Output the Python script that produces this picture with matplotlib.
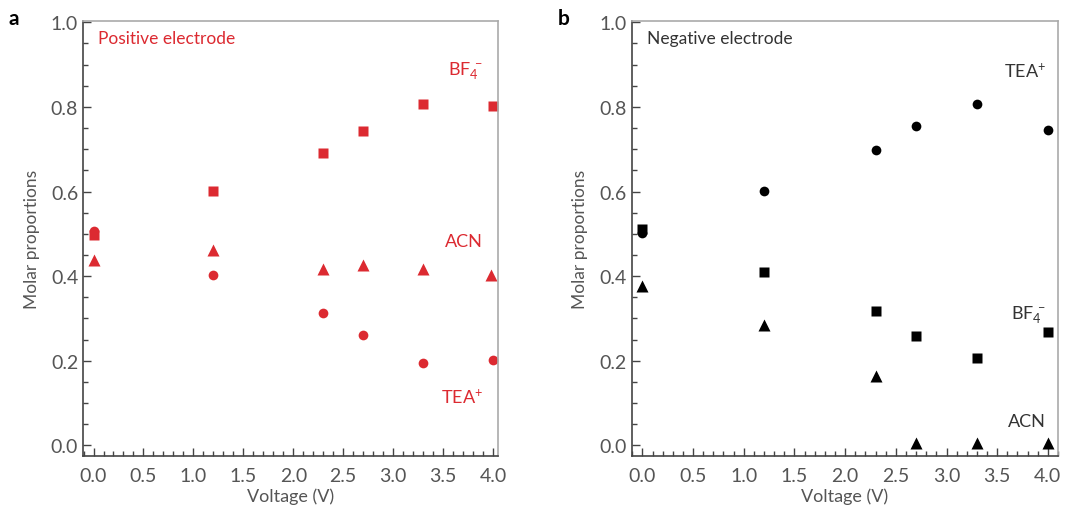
import matplotlib
matplotlib.use("Agg")
import matplotlib.pyplot as plt
from matplotlib.ticker import MultipleLocator

plt.rcParams['font.family'] = ['Lato', 'DejaVu Sans']
plt.rcParams['mathtext.default'] = 'regular'

RED = '#dc2a31'
GREY = '#555555'

# positive electrode (panel a)
pos_v = [0.0, 1.2, 2.3, 2.7, 3.3, 4.0]
pos_bf4 = [0.497, 0.602, 0.692, 0.744, 0.808, 0.802]
pos_tea = [0.506, 0.402, 0.312, 0.261, 0.196, 0.202]
pos_acn_v = [0.0, 1.2, 2.3, 2.7, 3.3, 3.98]
pos_acn = [0.438, 0.462, 0.418, 0.426, 0.418, 0.402]

# negative electrode (panel b)
neg_v = [0.0, 1.2, 2.3, 2.7, 3.3, 4.0]
neg_tea = [0.502, 0.602, 0.697, 0.754, 0.806, 0.746]
neg_bf4 = [0.512, 0.411, 0.317, 0.259, 0.206, 0.268]
neg_acn = [0.376, 0.285, 0.165, 0.006, 0.006, 0.006]

xticks = [0.0, 0.5, 1.0, 1.5, 2.0, 2.5, 3.0, 3.5, 4.0]
yticks = [0.0, 0.2, 0.4, 0.6, 0.8, 1.0]

fig = plt.figure(figsize=(10.7, 5.06), dpi=100)
ax_a = fig.add_axes([0.0776, 0.0968, 0.3879, 0.8597])
ax_b = fig.add_axes([0.5904, 0.0968, 0.3984, 0.8597])


def style_axis(ax, xmax):
    ax.set_xlim(-0.105, xmax)
    ax.set_ylim(-0.025, 1.003)
    ax.set_xticks(xticks)
    ax.set_xticklabels([f'{v:.1f}' for v in xticks])
    ax.set_yticks(yticks)
    ax.set_yticklabels([f'{v:.1f}' for v in yticks])
    ax.xaxis.set_minor_locator(MultipleLocator(0.1))
    ax.yaxis.set_minor_locator(MultipleLocator(0.05))
    ax.tick_params(which='both', direction='in', color='#444444', labelcolor=GREY,
                   labelsize=14, top=False, right=False)
    ax.tick_params(which='major', length=6, width=1)
    ax.tick_params(which='minor', length=3.5, width=1)
    ax.tick_params(axis='x', pad=8)
    for s in ax.spines.values():
        s.set_color('#aaaaaa')
        s.set_linewidth(1.2)
    ax.spines['left'].set_color('#444444')
    ax.spines['bottom'].set_color('#444444')
    ax.set_xlabel('Voltage (V)', fontsize=13, color=GREY, labelpad=2.5)
    ax.set_ylabel('Molar proportions', fontsize=12.5, color=GREY, labelpad=8)


# panel a
ax_a.plot(pos_v, pos_tea, 'o', color=RED, ms=7, mec='none')
ax_a.plot(pos_v, pos_bf4, 's', color=RED, ms=7, mec='none')
ax_a.plot(pos_acn_v, pos_acn, '^', color=RED, ms=8, mec='none')
style_axis(ax_a, 4.05)
ax_a.text(0.04, 0.962, 'Positive electrode', color=RED, fontsize=12.5, va='center', ha='left')
ax_a.text(3.9, 0.886, 'BF$_4^{\\,-}$', color=RED, fontsize=13, va='center', ha='right')
ax_a.text(3.9, 0.483, 'ACN', color=RED, fontsize=13, va='center', ha='right')
ax_a.text(3.9, 0.117, 'TEA$^{+}$', color=RED, fontsize=13, va='center', ha='right')

# panel b
ax_b.plot(neg_v, neg_tea, 'o', color='black', ms=7, mec='none')
ax_b.plot(neg_v, neg_bf4, 's', color='black', ms=7, mec='none')
ax_b.plot(neg_v, neg_acn, '^', color='black', ms=8, mec='none')
style_axis(ax_b, 4.1)
ax_b.text(0.046, 0.962, 'Negative electrode', color='#333333', fontsize=12.5, va='center', ha='left')
ax_b.text(3.98, 0.886, 'TEA$^{+}$', color='#333333', fontsize=13, va='center', ha='right')
ax_b.text(3.98, 0.311, 'BF$_4^{\\,-}$', color='#333333', fontsize=13, va='center', ha='right')
ax_b.text(3.98, 0.057, 'ACN', color='#333333', fontsize=13, va='center', ha='right')

fig.text(0.008, 0.963, 'a', fontsize=15, fontweight='bold', va='center', ha='left')
fig.text(0.521, 0.963, 'b', fontsize=15, fontweight='bold', va='center', ha='left')

fig.savefig('out.png', dpi=100)
